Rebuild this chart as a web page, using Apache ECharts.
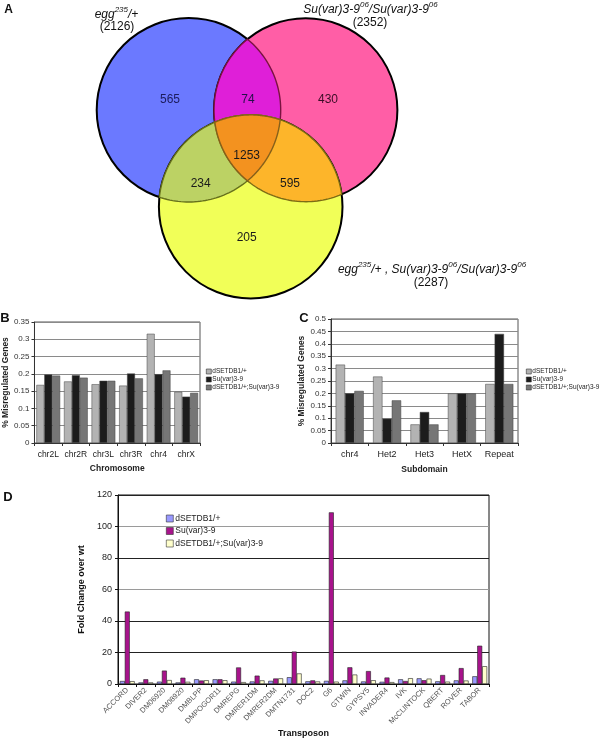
<!DOCTYPE html>
<html><head><meta charset="utf-8">
<script src="https://cdn.jsdelivr.net/npm/echarts@6/dist/echarts.min.js"></script>
<style>html,body{margin:0;padding:0;background:#fff}#c{width:606px;height:740px}</style>
</head><body><div id="c"></div>
<script>
// ---------- DATA ----------
// Panel A: Venn diagram (circle centre x, centre y, radius in diagram units)
const vennCircles = [[188.7, 110, 92], [305.7, 110, 91.7], [250.7, 206.7, 91.8]];
const vennOverlaps = [[0, 1], [0, 2], [1, 2], [0, 1, 2]];
const vennCounts = [565, 74, 430, 1253, 234, 595, 205];
const vennSetSizes = [2126, 2352, 2287];

// Panel B
const chromCats = ['chr2L', 'chr2R', 'chr3L', 'chr3R', 'chr4', 'chrX'];
const chromSetdb = [0.168, 0.178, 0.170, 0.166, 0.316, 0.148];
const chromSuvar = [0.198, 0.196, 0.180, 0.201, 0.199, 0.134];
const chromBoth  = [0.195, 0.189, 0.180, 0.187, 0.210, 0.145];

// Panel C
const subCats = ['chr4', 'Het2', 'Het3', 'HetX', 'Repeat'];
const subSetdb = [0.316, 0.268, 0.075, 0.200, 0.238];
const subSuvar = [0.200, 0.098, 0.125, 0.200, 0.440];
const subBoth  = [0.210, 0.172, 0.075, 0.200, 0.238];

// Panel D
const tpCats = ['ACCORD', 'DIVER2', 'DM06920', 'DM08920', 'DMBLPP', 'DMPOGOR11', 'DMREPG', 'DMRER1DM', 'DMRER2DM', 'DMTN1731',
  'DOC2', 'G6', 'GTWIN', 'GYPSY5', 'INVADER4', 'IVK', 'McCLINTOCK', 'QBERT', 'ROVER', 'TABOR'];
const tpSetdb = [1.9, 1.0, 1.5, 1.0, 3.0, 3.0, 1.5, 1.6, 2.0, 4.3, 1.7, 2.0, 2.3, 1.6, 1.4, 3.0, 3.6, 1.7, 2.3, 4.9];
const tpSuvar = [46, 3.0, 8.5, 4.0, 2.2, 3.0, 10.5, 5.3, 3.5, 20.6, 2.3, 109, 10.6, 8.2, 4.1, 1.9, 2.4, 5.7, 10.1, 24.3];
const tpBoth  = [1.8, 1.0, 2.5, 1.4, 2.4, 2.4, 1.2, 2.3, 3.6, 6.7, 1.6, 1.5, 6.0, 2.4, 1.2, 3.7, 3.4, 1.5, 2.2, 11.3];

const seriesNames = ['dSETDB1/+', 'Su(var)3-9', 'dSETDB1/+;Su(var)3-9'];

// ---------- STYLE / LAYOUT ----------
const FF = 'Liberation Sans, Arial, sans-serif';
const vennFill = ['#6b79ff', '#ff5ea6', '#f1ff58'];
const overlapFill = ['#df1fd8', '#bcd264', '#fdb52a', '#f3921f'];
const overlapStroke = ['#7a1240', '#66701c', '#7d6c14', '#86601a'];
const countPos = [[170, 100], [248, 100], [328, 100], [246.7, 156], [200.7, 184], [290, 184], [246.7, 238]];
const countColor = ['#1c1c5c', '#24104a', '#3a0d26', '#1a1a1a', '#1a1a1a', '#1a1a1a', '#1a1a1a'];
const greyCols = ['#b3b3b3', '#1c1c1c', '#767676'];
const dCols = ['#9999ff', '#a8138c', '#ffffcc'];

// ---------- GEOMETRY HELPERS ----------
function pxCircle(api, i) {
  const c = vennCircles[i];
  const p = api.coord([c[0], c[1]]);
  const r = api.size([c[2], 0])[0];
  return { x: p[0], y: p[1], r: r };
}
function intersect(a, b) {
  const dx = b.x - a.x, dy = b.y - a.y, d = Math.hypot(dx, dy);
  const aa = (a.r * a.r - b.r * b.r + d * d) / (2 * d);
  const h = Math.sqrt(Math.max(0, a.r * a.r - aa * aa));
  const mx = a.x + aa * dx / d, my = a.y + aa * dy / d;
  return [[mx - h * dy / d, my + h * dx / d], [mx + h * dy / d, my - h * dx / d]];
}
function angDiff(a, b) { let d = a - b; while (d > Math.PI) d -= 2 * Math.PI; while (d < -Math.PI) d += 2 * Math.PI; return Math.abs(d); }
function arcPts(c, p1, p2, toward) {
  const a1 = Math.atan2(p1[1] - c.y, p1[0] - c.x);
  const a2 = Math.atan2(p2[1] - c.y, p2[0] - c.x);
  let d = a2 - a1;
  while (d > Math.PI) d -= 2 * Math.PI;
  while (d <= -Math.PI) d += 2 * Math.PI;
  const alt = d > 0 ? d - 2 * Math.PI : d + 2 * Math.PI;
  const tgt = Math.atan2(toward[1] - c.y, toward[0] - c.x);
  const use = angDiff(a1 + d / 2, tgt) <= angDiff(a1 + alt / 2, tgt) ? d : alt;
  const n = 60, pts = [];
  for (let k = 0; k < n; k++) {
    const t = a1 + use * k / n;
    pts.push([c.x + c.r * Math.cos(t), c.y + c.r * Math.sin(t)]);
  }
  return pts;
}
function inside(p, c) { return Math.hypot(p[0] - c.x, p[1] - c.y) < c.r; }

// ---------- OPTION ----------
const barBorder = { borderColor: '#444', borderWidth: 0.5 };

function greyBars(xi, data, gap) {
  return data.map((d, k) => ({
    type: 'bar', name: seriesNames[k], xAxisIndex: xi, yAxisIndex: xi, data: d,
    barGap: '0%', barCategoryGap: gap,
    itemStyle: Object.assign({ color: greyCols[k] }, barBorder)
  }));
}

function smallLegend(left, top, cols, fs, ih, lh, gap, pad) {
  return {
    orient: 'vertical', left: left, top: top, selectedMode: false, padding: 0,
    itemWidth: ih, itemHeight: ih, itemGap: gap, icon: 'rect',
    textStyle: { fontSize: fs, lineHeight: lh, color: '#222', fontFamily: FF, padding: [0, 0, 0, pad] },
    data: seriesNames.map((n, k) => ({ name: n, itemStyle: { color: cols[k], borderColor: '#333', borderWidth: 0.6 } }))
  };
}

const catAxis = (gi, data, name, gap, fs) => ({
  gridIndex: gi, type: 'category', data: data,
  axisLine: { lineStyle: { color: '#333', width: 1 } },
  axisTick: { show: true, length: 3, lineStyle: { color: '#333' } },
  axisLabel: { fontSize: fs, color: '#222', margin: 7, fontFamily: FF, interval: 0, hideOverlap: false },
  name: name, nameLocation: 'middle', nameGap: gap,
  nameTextStyle: { fontSize: 8.5, fontWeight: 'bold', color: '#222', fontFamily: FF }
});
const valAxis = (gi, max, interval, name, gap, fs) => ({
  gridIndex: gi, type: 'value', min: 0, max: max, interval: interval,
  axisLine: { show: true, lineStyle: { color: '#333' } },
  axisTick: { show: true, length: 3, lineStyle: { color: '#333' } },
  axisLabel: { fontSize: fs, color: '#333', margin: 5, fontFamily: FF },
  splitLine: { show: true, lineStyle: { color: '#8a8a8a', width: 1 } },
  name: name, nameLocation: 'middle', nameGap: gap, nameRotate: 90,
  nameTextStyle: { fontSize: 8.5, fontWeight: 'bold', color: '#222', fontFamily: FF }
});

const supRich = {
  i: { fontStyle: 'italic', fontSize: 12, fontFamily: FF, lineHeight: 15, verticalAlign: 'bottom', color: '#111' },
  s: { fontStyle: 'italic', fontSize: 8, fontFamily: FF, lineHeight: 15, verticalAlign: 'top', color: '#111' }
};
function txt(x, y, text, extra) {
  return { type: 'text', x: x, y: y, z: 10,
    style: Object.assign({ text: text, align: 'center', verticalAlign: 'middle', fill: '#111', fontFamily: FF, fontSize: 12 }, extra || {}) };
}

const option = {
  animation: false,
  backgroundColor: '#fff',
  textStyle: { fontFamily: FF },
  grid: [
    { left: 0, top: 0, width: 606, height: 320, show: false },
    { left: 31, top: 322, width: 169, height: 121, show: true, borderColor: '#555', borderWidth: 1 },
    { left: 331, top: 319, width: 187, height: 124, show: true, borderColor: '#555', borderWidth: 1 },
    { left: 118, top: 495, width: 371, height: 189, show: true, borderColor: '#111', borderWidth: 1 }
  ],
  xAxis: [
    { gridIndex: 0, type: 'value', min: 0, max: 606, show: false },
    catAxis(1, chromCats, 'Chromosome', 21, 8.5),
    catAxis(2, subCats, 'Subdomain', 22, 9),
    {
      gridIndex: 3, type: 'category', data: tpCats,
      axisLine: { lineStyle: { color: '#111' } },
      axisTick: { show: true, length: 3, lineStyle: { color: '#111' } },
      axisLabel: { fontSize: 7.5, color: '#555', rotate: 45, interval: 0, margin: 5, fontFamily: FF },
      name: 'Transposon', nameLocation: 'middle', nameGap: 32,
      nameTextStyle: { fontSize: 9, fontWeight: 'bold', color: '#111', fontFamily: FF }
    }
  ],
  yAxis: [
    { gridIndex: 0, type: 'value', min: 0, max: 320, inverse: true, show: false },
    valAxis(1, 0.35, 0.05, '% Misregulated Genes', 19.5, 8),
    valAxis(2, 0.5, 0.05, '% Misregulated Genes', 20.5, 8),
    {
      gridIndex: 3, type: 'value', min: 0, max: 120, interval: 20,
      axisLine: { show: true, lineStyle: { color: '#111' } },
      axisTick: { show: true, length: 3, lineStyle: { color: '#111' } },
      axisLabel: { fontSize: 9, color: '#222', margin: 6, fontFamily: FF },
      splitLine: { show: true, lineStyle: { color: ['#222', '#222', '#222', '#9a9a9a', '#222', '#9a9a9a', '#222'], width: 1 } },
      name: 'Fold Change over wt', nameLocation: 'middle', nameGap: 20, nameRotate: 90,
      nameTextStyle: { fontSize: 9, fontWeight: 'bold', color: '#111', fontFamily: FF }
    }
  ],
  legend: [
    smallLegend(206, 368, greyCols, 6.5, 5, 6, 1, -4),
    smallLegend(526, 368, greyCols, 6.5, 5, 6, 1, -4),
    smallLegend(166, 514, dCols, 8.5, 7, 9, 3.5, -3)
  ],
  graphic: [
    txt(8.5, 10, 'A', { fontWeight: 'bold', fontSize: 12 }),
    txt(5, 318, 'B', { fontWeight: 'bold', fontSize: 13 }),
    txt(304, 318, 'C', { fontWeight: 'bold', fontSize: 13 }),
    txt(8, 497, 'D', { fontWeight: 'bold', fontSize: 13 }),
    txt(116.5, 13.5, '{i|egg}{s|235}{i|/+}', { rich: supRich }),
    txt(117, 27, '(' + vennSetSizes[0] + ')'),
    txt(370.5, 8.5, '{i|Su(var)3-9}{s|06}{i|/Su(var)3-9}{s|06}', { rich: supRich }),
    txt(370, 23, '(' + vennSetSizes[1] + ')'),
    txt(432, 268, '{i|egg}{s|235}{i|/+ , Su(var)3-9}{s|06}{i|/Su(var)3-9}{s|06}', { rich: supRich }),
    txt(431, 283, '(' + vennSetSizes[2] + ')')
  ],
  series: [
    {
      type: 'custom', name: 'venn-circles', xAxisIndex: 0, yAxisIndex: 0, z: 2, silent: true,
      data: vennCircles,
      renderItem: function (params, api) {
        const c = pxCircle(api, params.dataIndex);
        return { type: 'circle', shape: { cx: c.x, cy: c.y, r: c.r },
          style: { fill: vennFill[params.dataIndex], stroke: '#000', lineWidth: 2 } };
      }
    },
    {
      type: 'custom', name: 'venn-overlaps', xAxisIndex: 0, yAxisIndex: 0, z: 3, silent: true,
      data: vennOverlaps.map((o, k) => [k, 0]),
      renderItem: function (params, api) {
        const k = params.dataIndex, o = vennOverlaps[k];
        const C = o.map(i => pxCircle(api, i));
        let pts;
        if (o.length === 2) {
          const [P, Q] = intersect(C[0], C[1]);
          pts = arcPts(C[0], P, Q, [C[1].x, C[1].y]).concat(arcPts(C[1], Q, P, [C[0].x, C[0].y]));
        } else {
          const pick = (a, b, c) => intersect(a, b).filter(p => inside(p, c))[0];
          const xab = pick(C[0], C[1], C[2]);
          const xac = pick(C[0], C[2], C[1]);
          const xbc = pick(C[1], C[2], C[0]);
          const T = [(xab[0] + xac[0] + xbc[0]) / 3, (xab[1] + xac[1] + xbc[1]) / 3];
          pts = arcPts(C[0], xab, xac, T).concat(arcPts(C[2], xac, xbc, T)).concat(arcPts(C[1], xbc, xab, T));
        }
        return { type: 'polygon', shape: { points: pts },
          style: { fill: overlapFill[k], stroke: overlapStroke[k], lineWidth: 1.4 } };
      }
    },
    {
      type: 'custom', name: 'venn-counts', xAxisIndex: 0, yAxisIndex: 0, z: 5, silent: true,
      data: vennCounts.map((v, i) => [countPos[i][0], countPos[i][1], v]),
      renderItem: function (params, api) {
        const p = api.coord([api.value(0), api.value(1)]);
        return { type: 'text', x: p[0], y: p[1],
          style: { text: String(api.value(2)), align: 'center', verticalAlign: 'middle',
            fill: countColor[params.dataIndex], fontSize: 12, fontFamily: FF } };
      }
    }
  ]
  .concat(greyBars(1, [chromSetdb, chromSuvar, chromBoth], '14%'))
  .concat(greyBars(2, [subSetdb, subSuvar, subBoth], '25%'))
  .concat([tpSetdb, tpSuvar, tpBoth].map((d, k) => ({
    type: 'bar', name: seriesNames[k], xAxisIndex: 3, yAxisIndex: 3, data: d,
    barGap: '0%', barCategoryGap: '20%',
    itemStyle: { color: dCols[k], borderColor: '#222', borderWidth: 0.6 }
  })))
};

const chart = echarts.init(document.getElementById('c'));
chart.setOption(option);
</script>
</body></html>
